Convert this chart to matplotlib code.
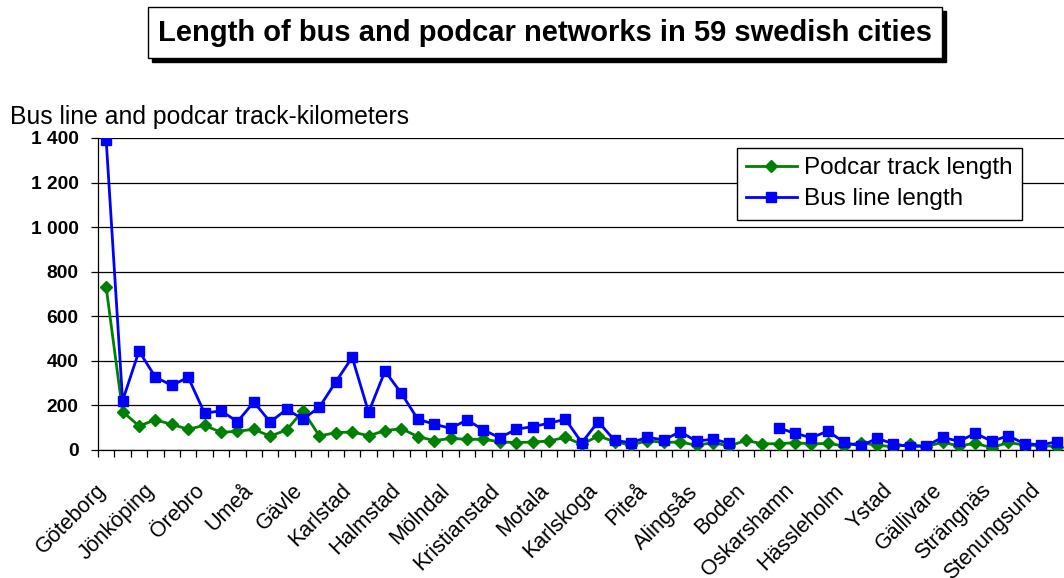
import numpy as np
import matplotlib.pyplot as plt
from matplotlib.patches import Rectangle
from matplotlib.transforms import ScaledTranslation

plt.rcParams["font.family"] = ["Liberation Sans", "DejaVu Sans"]

# every third city is labelled on the category axis
labelled_cities = ["Göteborg", "Jönköping", "Örebro", "Umeå", "Gävle", "Karlstad",
                   "Halmstad", "Mölndal", "Kristianstad", "Motala", "Karlskoga",
                   "Piteå", "Alingsås", "Boden", "Oskarshamn", "Hässleholm",
                   "Ystad", "Gällivare", "Strängnäs", "Stenungsund"]
n_cities = 59

podcar = [730, 172, 108, 135, 115, 93, 111, 79, 84, 93,
          62, 90, 176, 63, 78, 81, 64, 87, 96, 60,
          42, 52, 48, 48, 37, 33, 36, 40, 57, 25,
          63, 37, 22, 42, 34, 36, 21, 33, 18, 43,
          28, 28, 33, 27, 30, 18, 33, 21, 15, 25,
          15, 35, 18, 30, 10, 34, 22, 20, 15]
bus = [1390, 221, 444, 327, 290, 326, 165, 176, 127, 215,
       126, 182, 139, 192, 306, 416, 169, 354, 254, 138,
       116, 97, 135, 90, 55, 93, 105, 120, 138, 33,
       127, 43, 33, 57, 45, 82, 39, 49, 30, np.nan,
       np.nan, 99, 75, 55, 85, 34, 18, 52, 28, 15,
       18, 57, 39, 75, 39, 64, 28, 24, 37]

x = np.arange(n_cities)
W, H = 1064, 578

fig = plt.figure(figsize=(W / 100, H / 100), dpi=100)
ax = fig.add_axes([98 / W, 128 / H, 967.6 / W, 312 / H])

ax.plot(x, podcar, color="#008000", lw=2, marker="D", ms=6.5,
        label="Podcar track length", zorder=3)
ax.plot(x, bus, color="#0000FF", lw=2, marker="s", ms=7.5,
        label="Bus line length", zorder=4)

ax.set_xlim(-0.5, n_cities - 0.5)
ax.set_ylim(0, 1400)
ax.set_yticks(np.arange(0, 1401, 200))
ax.set_yticklabels(["0", "200", "400", "600", "800", "1 000", "1 200", "1 400"],
                   fontweight="bold", fontsize=13.8)
ax.yaxis.grid(True, color="black", lw=0.9)
ax.set_axisbelow(True)
ax.tick_params(axis="y", direction="out", length=5, width=0.9, pad=9)

# tick marks between categories
ax.set_xticks(np.arange(n_cities + 1) - 0.5)
ax.set_xticklabels([])
ax.tick_params(axis="x", which="major", direction="out", length=5, width=0.9)

# city names on every third category, rotated (the lowest ones run off the
# bottom edge, as in the original)
lab_tr = ax.get_xaxis_transform() + ScaledTranslation(-11 / 100, -30 / 100, fig.dpi_scale_trans)
for pos, name in zip(range(0, n_cities, 3), labelled_cities):
    ax.text(pos, 0, name, transform=lab_tr, rotation=45, ha="right", va="top",
            rotation_mode="anchor", fontsize=15.5, clip_on=False)

for side in ["top", "right"]:
    ax.spines[side].set_visible(False)
for side in ["left", "bottom"]:
    ax.spines[side].set_color("black")
    ax.spines[side].set_linewidth(0.9)

fig.text(10 / W, 1 - 117 / H, "Bus line and podcar track-kilometers",
         fontsize=17.8, va="center", ha="left")

# title box with drop shadow
fig.add_artist(Rectangle((152 / W, 1 - 62 / H), 794 / W, 51 / H,
                         transform=fig.transFigure, fc="black", ec="black"))
fig.add_artist(Rectangle((148 / W, 1 - 58 / H), 794 / W, 51 / H,
                         transform=fig.transFigure, fc="white", ec="black", lw=1))
fig.text(545 / W, 1 - 33 / H, "Length of bus and podcar networks in 59 swedish cities",
         fontsize=21, fontweight="bold", ha="center", va="center")

leg = fig.legend(loc="upper right", bbox_to_anchor=(1022 / W, 1 - 148 / H),
                 fontsize=17.5, frameon=True, fancybox=False, framealpha=1,
                 edgecolor="black", borderpad=0.38, handlelength=2.1,
                 handletextpad=0.3, labelspacing=0.38, borderaxespad=0)
leg.get_frame().set_linewidth(1)

fig.savefig("out.png", dpi=100)
